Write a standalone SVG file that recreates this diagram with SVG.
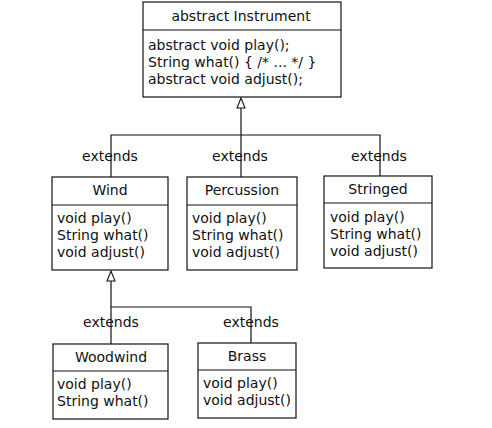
<svg xmlns="http://www.w3.org/2000/svg" width="492" height="428" viewBox="0 0 492 428">
<style>
.box{fill:#fff;stroke:#111;stroke-width:1.2}
.div{stroke:#111;stroke-width:1.2}
.t{font-family:"DejaVu Sans",Verdana,sans-serif;font-size:14px;fill:#111}
.c{text-anchor:middle}
.ln{fill:none;stroke:#111;stroke-width:1.2}
.tri{fill:#fff;stroke:#111;stroke-width:1.1}
</style>
<rect width="492" height="428" fill="#fff"/>
<g id="connectors">
<polygon class="tri" points="241,98 237,108 245,108"/>
<path class="ln" d="M241,108 V177 M111,177 V135 H380 V176"/>
<polygon class="tri" points="111,271 107,281 115,281"/>
<path class="ln" d="M111,281 V344 M111,307 H251 V343"/>
<text class="t c" x="110" y="161">extends</text>
<text class="t c" x="240" y="161">extends</text>
<text class="t c" x="379" y="161">extends</text>
<text class="t c" x="111" y="327">extends</text>
<text class="t c" x="251" y="327">extends</text>
</g>
<g id="Instrument">
<rect class="box" x="143" y="2" width="198" height="95"/>
<line class="div" x1="143" y1="30" x2="341" y2="30"/>
<text class="t c" x="241" y="21">abstract Instrument</text>
<text class="t" x="148" y="50">abstract void play();</text>
<text class="t" x="148" y="67">String what() { /* ... */ }</text>
<text class="t" x="148" y="84">abstract void adjust();</text>
</g>
<g id="Wind">
<rect class="box" x="52" y="177" width="116" height="93"/>
<line class="div" x1="52" y1="205" x2="168" y2="205"/>
<text class="t c" x="110" y="195">Wind</text>
<text class="t" x="57" y="223">void play()</text>
<text class="t" x="57" y="240">String what()</text>
<text class="t" x="57" y="257">void adjust()</text>
</g>
<g id="Percussion">
<rect class="box" x="187" y="177" width="110" height="93"/>
<line class="div" x1="187" y1="205" x2="297" y2="205"/>
<text class="t c" x="242" y="195">Percussion</text>
<text class="t" x="192" y="223">void play()</text>
<text class="t" x="192" y="240">String what()</text>
<text class="t" x="192" y="257">void adjust()</text>
</g>
<g id="Stringed">
<rect class="box" x="324" y="176" width="108" height="92"/>
<line class="div" x1="324" y1="203" x2="432" y2="203"/>
<text class="t c" x="378" y="194">Stringed</text>
<text class="t" x="330" y="222">void play()</text>
<text class="t" x="330" y="239">String what()</text>
<text class="t" x="330" y="256">void adjust()</text>
</g>
<g id="Woodwind">
<rect class="box" x="53" y="344" width="115" height="75"/>
<line class="div" x1="53" y1="371" x2="168" y2="371"/>
<text class="t c" x="111" y="362">Woodwind</text>
<text class="t" x="57" y="389">void play()</text>
<text class="t" x="57" y="406">String what()</text>
</g>
<g id="Brass">
<rect class="box" x="198" y="343" width="98" height="75"/>
<line class="div" x1="198" y1="370" x2="296" y2="370"/>
<text class="t c" x="247" y="361">Brass</text>
<text class="t" x="203" y="388">void play()</text>
<text class="t" x="203" y="405">void adjust()</text>
</g>
</svg>
